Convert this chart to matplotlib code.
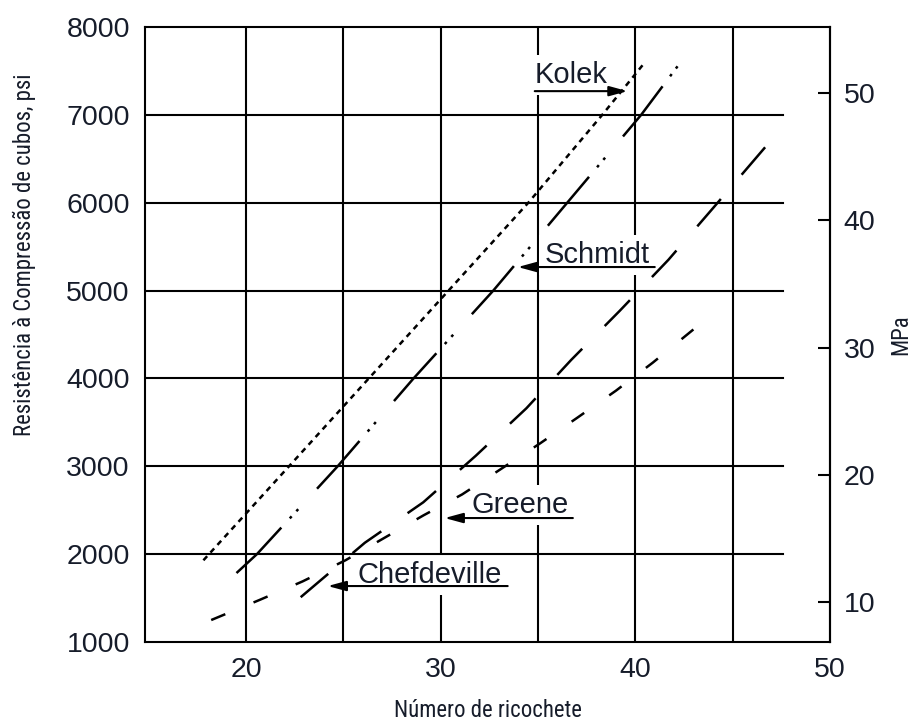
"""Compressive strength of cubes vs rebound number (four calibration curves)."""

import matplotlib
matplotlib.use("Agg")
import matplotlib.pyplot as plt
from matplotlib import font_manager


# rebound number (x) vs cube compressive strength in psi (y)
kolek_x = [17.8, 22.2, 26.3, 30.4, 34.5, 38.3, 40.5]
kolek_y = [1930, 3000, 4000, 5000, 6000, 7000, 7600]

schmidt_x = [19.5, 20.55, 24.7, 28.6, 32.7, 36.5, 40.3, 42.5]
schmidt_y = [1785, 2000, 3000, 4000, 5000, 6000, 7000, 7650]

greene_x = [22.8, 26.1, 29.1, 31.8, 34.4, 36.7, 39.2, 41.7, 44.0, 46.9]
greene_y = [1510, 2130, 2590, 3120, 3660, 4210, 4770, 5350, 5940, 6690]

chef_x = [18.2, 20.7, 22.9, 25.1, 29.1, 31.1, 33.1, 35.1, 37.0, 39.0, 40.9, 43.0]
chef_y = [1250, 1480, 1690, 1930, 2440, 2680, 2970, 3260, 3550, 3860, 4180, 4560]

# label text, text anchor (x, psi), arrow start and arrow tip
labels = ["Kolek", "Schmidt", "Greene", "Chefdeville"]
label_pos = [(34.83, 7361), (35.35, 5313), (31.6, 2468), (25.73, 1671)]
arrow_from = [(34.83, 7270), (41.0, 5268), (36.79, 2411), (33.44, 1637)]
arrow_to = [(39.6, 7270), (33.96, 5268), (30.2, 2411), (24.19, 1637)]

x_ticks = [20, 30, 40, 50]
y_ticks = [1000, 2000, 3000, 4000, 5000, 6000, 7000, 8000]
mpa_ticks = [10, 20, 30, 40, 50]
v_grid = [20, 25, 30, 35, 40, 45]
h_grid = [2000, 3000, 4000, 5000, 6000, 7000]

XLABEL = "Número de ricochete"
YLABEL = "Resistência à Compressão de cubos, psi"

PSI_PER_MPA = 145.04
TXT = "#161c2a"
FONT = "Liberation Sans"

plt.rcParams["lines.scale_dashes"] = False

fig = plt.figure(figsize=(9.18, 7.26), dpi=100)

# axis titles: a narrow face if there is one, sized so the x title is ~188 px wide
names = {f.name for f in font_manager.fontManager.ttflist}
narrow = ["Roboto Condensed", "Arial Narrow", "PT Sans Narrow",
          "Archivo Narrow", "Liberation Sans Narrow"]
LABEL_FONT = next((n for n in narrow if n in names), FONT)
probe = fig.text(0, 0, XLABEL, fontsize=16.4, family=LABEL_FONT)
probe_w = probe.get_window_extent(fig.canvas.get_renderer()).width
probe.remove()
LABEL_SIZE = 16.4 * min(1.0, 188 / probe_w)

ax = fig.add_axes([0.158, 0.1157, 0.746, 0.8471])
ax.set_xlim(14.8, 50)
ax.set_ylim(1000, 8000)

for xv in v_grid:
    ax.axvline(xv, color="black", lw=1.5, zorder=1)
for yv in h_grid:
    ax.plot([14.8, 47.6], [yv, yv], color="black", lw=1.5, zorder=2.5)

ax.plot(kolek_x, kolek_y, color="black", lw=1.8, dashes=(4, 3.5), zorder=3)
ax.plot(schmidt_x, schmidt_y, color="black", lw=1.8,
        dashes=(46, 9, 2, 5, 2, 20), zorder=3)
ax.plot(greene_x, greene_y, color="black", lw=1.8, dashes=(26, 23), zorder=3)
ax.plot(chef_x, chef_y, color="black", lw=1.8, dashes=(11, 22), zorder=3)

for text, pos, start, tip in zip(labels, label_pos, arrow_from, arrow_to):
    ax.text(pos[0], pos[1], text, fontsize=21, family=FONT,
            color=TXT, ha="left", va="baseline", zorder=2,
            bbox=dict(boxstyle="square,pad=0.2", fc="white", ec="none"))
    ax.annotate("", xy=tip, xytext=start, zorder=4,
                arrowprops=dict(arrowstyle="-|>,head_length=1.1,head_width=0.3",
                                color="black", lw=1.5, shrinkA=0, shrinkB=0))

for side in ax.spines.values():
    side.set_linewidth(1.5)

ax.set_xticks(x_ticks)
ax.set_yticks(y_ticks)
ax.tick_params(axis="both", length=0, pad=11, labelsize=20.5, labelcolor=TXT)
for lab in ax.get_xticklabels() + ax.get_yticklabels():
    lab.set_family(FONT)

ax.set_xlabel(XLABEL, fontsize=LABEL_SIZE, family=LABEL_FONT, color=TXT)
ax.xaxis.set_label_coords(0.5, -0.092)
ax.set_ylabel(YLABEL, fontsize=LABEL_SIZE, family=LABEL_FONT, color=TXT)
ax.yaxis.set_label_coords(-0.159, 0.63)

sec = ax.secondary_yaxis("right", functions=(lambda p: p / PSI_PER_MPA,
                                             lambda m: m * PSI_PER_MPA))
sec.set_yticks(mpa_ticks)
sec.spines["right"].set_linewidth(1.5)
sec.tick_params(direction="in", length=8.5, width=1.5, pad=10, labelsize=20.5,
                labelcolor=TXT)
for lab in sec.get_yticklabels():
    lab.set_family(FONT)
sec.set_ylabel("MPa", fontsize=LABEL_SIZE, family=LABEL_FONT, color=TXT,
               labelpad=10)

fig.savefig("out.png", dpi=100)
